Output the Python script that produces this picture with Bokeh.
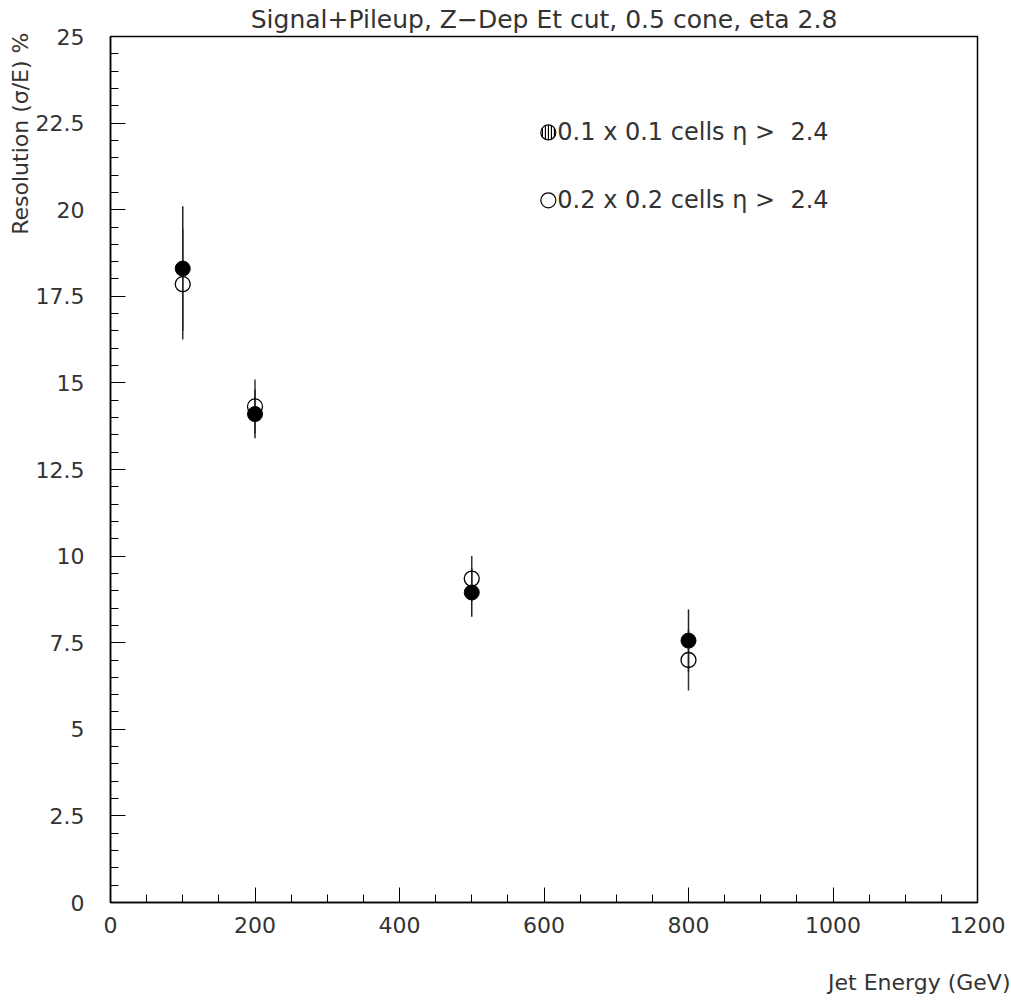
from bokeh.plotting import figure
from bokeh.models import Range1d, FixedTicker, Label, ColumnDataSource, Title
from bokeh.embed import file_html
from bokeh.resources import INLINE

# ---- data ----
energy = [100, 200, 500, 800]
res_fine = [18.3, 14.1, 8.95, 7.56]          # 0.1 x 0.1 cells (filled)
err_fine = [1.8, 0.7, 0.7, 0.9]
res_coarse = [17.85, 14.32, 9.35, 7.0]       # 0.2 x 0.2 cells (open)
err_coarse = [1.6, 0.78, 0.65, 0.88]
y_ticks = [0, 2.5, 5, 7.5, 10, 12.5, 15, 17.5, 20, 22.5, 25]
x_ticks = [0, 200, 400, 600, 800, 1000, 1200]
title_text = "Signal+Pileup, Z\u2212Dep Et cut, 0.5 cone, eta 2.8"
x_title = "Jet Energy (GeV)"
y_title = "Resolution (\u03c3/E) %"
legend_fine = "0.1 x 0.1 cells \u03b7 >\u00a0\u00a02.4"
legend_coarse = "0.2 x 0.2 cells \u03b7 >\u00a0\u00a02.4"

FONT = "DejaVu Sans"
TC = "#333333"

p = figure(width=1011, height=1000, output_backend="svg", toolbar_location=None,
           x_range=Range1d(0, 1200), y_range=Range1d(0, 25),
           min_border_left=110, min_border_right=34, min_border_top=36, min_border_bottom=98)
p.grid.visible = False
p.outline_line_color = "black"
p.outline_line_width = 1.5
p.background_fill_color = "white"
p.border_fill_color = "white"

for ax in (p.xaxis[0], p.yaxis[0]):
    ax.axis_line_width = 1.5
    ax.major_tick_in = 15
    ax.major_tick_out = 0
    ax.minor_tick_in = 8
    ax.minor_tick_out = 0
    ax.major_tick_line_width = 1
    ax.minor_tick_line_width = 1
    ax.major_label_text_font = FONT
    ax.major_label_text_font_size = "22px"
    ax.major_label_text_color = TC

p.xaxis.ticker = FixedTicker(ticks=x_ticks, minor_ticks=list(range(0, 1201, 50)))
p.yaxis.ticker = FixedTicker(ticks=y_ticks, minor_ticks=[i * 0.5 for i in range(51)])
p.yaxis.major_label_overrides = {v: f"{v:g}" for v in y_ticks}
p.xaxis.major_label_overrides = {v: f"{v:g}" for v in x_ticks}
p.yaxis.major_label_standoff = 26
p.xaxis.major_label_standoff = 14

HAS_STANDOFF = "standoff" in Title.properties()

# title (top)
p.title.text = title_text
p.title.align = "center"
p.title.vertical_align = "top"
p.title.text_font = FONT
p.title.text_font_size = "25px"
p.title.text_font_style = "normal"
p.title.text_color = TC
if HAS_STANDOFF:
    p.title.standoff = 2

# y-axis title (left, rotated, aligned to top)
yt = Title(text=y_title, align="right", offset=-4, text_font=FONT, text_font_size="22px",
           text_font_style="normal", text_color=TC)
if HAS_STANDOFF:
    yt.standoff = 0
p.add_layout(yt, "left")

# x-axis title (bottom right), with spacer
p.add_layout(Title(text=" ", text_font_size="13px"), "below")
p.add_layout(Title(text=x_title, align="right", offset=-33, text_font=FONT, text_font_size="22px",
                   text_font_style="normal", text_color=TC), "below")

# error bars
src_f = ColumnDataSource(dict(x=energy, y=res_fine,
                              lo=[v - e for v, e in zip(res_fine, err_fine)],
                              hi=[v + e for v, e in zip(res_fine, err_fine)]))
src_c = ColumnDataSource(dict(x=energy, y=res_coarse,
                              lo=[v - e for v, e in zip(res_coarse, err_coarse)],
                              hi=[v + e for v, e in zip(res_coarse, err_coarse)]))
p.segment(x0="x", y0="lo", x1="x", y1="hi", source=src_c, line_color="#333333", line_width=1.5)
p.segment(x0="x", y0="lo", x1="x", y1="hi", source=src_f, line_color="#222222", line_width=1.5)

p.scatter(x="x", y="y", source=src_c, size=15, marker="circle",
          fill_color="white", fill_alpha=0.0, line_color="black", line_width=1.3)
p.scatter(x="x", y="y", source=src_f, size=15, marker="circle",
          fill_color="black", line_color="black", line_width=1)

# legend (manual, positioned like the original)
LX, LY1, LY2 = 606, 22.23, 20.27
p.scatter([LX], [LY1], size=15, marker="circle", fill_color="white", line_color="black",
          line_width=1.2, hatch_pattern="|", hatch_color="black", hatch_scale=3, hatch_weight=1.3)
p.scatter([LX], [LY2], size=15, marker="circle", fill_color="white", line_color="black",
          line_width=1.2)
for yy, txt in ((LY1, legend_fine), (LY2, legend_coarse)):
    p.add_layout(Label(x=LX, y=yy, x_offset=9, text=txt, text_font=FONT, text_font_size="24px",
                       text_color=TC, text_baseline="middle", text_align="left"))

open("out.html", "w").write(file_html(p, INLINE))
